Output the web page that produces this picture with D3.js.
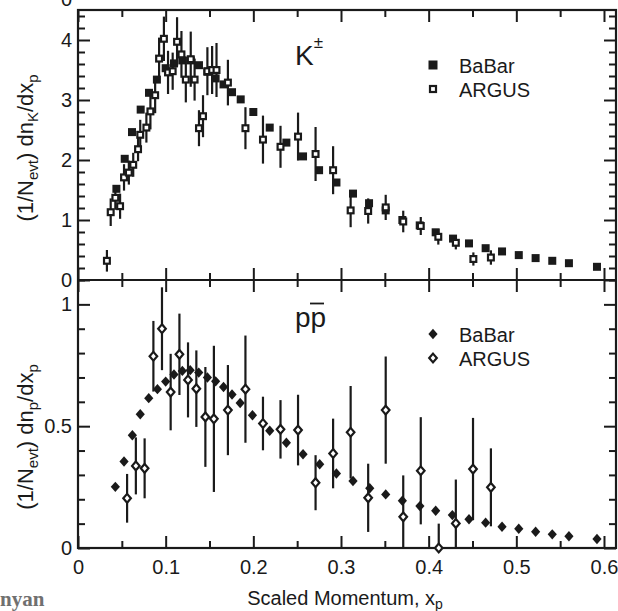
<!DOCTYPE html>
<html><head><meta charset="utf-8">
<script src="https://cdn.jsdelivr.net/npm/d3@7"></script>
<style>
html,body{margin:0;padding:0;background:#fff;}
svg{display:block;}
</style></head>
<body>
<svg id="chart" width="618" height="611"></svg>
<script>
// ---------- DATA ----------
const xTickValues = [0, 0.1, 0.2, 0.3, 0.4, 0.5, 0.6];
const xTickLabels = ["0", "0.1", "0.2", "0.3", "0.4", "0.5", "0.6"];
const topTickValues = [0, 1, 2, 3, 4];
const topTickLabels = ["0", "1", "2", "3", "4"];
const botTickValues = [0, 0.5, 1];
const botTickLabels = ["0", "0.5", "1"];

// K± BaBar (filled squares)
const kBabarX = [0.0438,0.0533,0.0616,0.0715,0.081,0.090,0.100,0.1095,0.119,0.1286,0.138,0.1476,0.157,0.166,0.1757,0.1856,0.200,0.2187,0.2377,0.2567,0.275,0.2948,0.3137,0.332,0.351,0.370,0.3898,0.408,0.4278,0.446,0.465,0.4837,0.5028,0.522,0.541,0.560,0.592];
const kBabarY = [1.52,2.02,2.465,2.84,3.12,3.34,3.53,3.61,3.66,3.66,3.58,3.47,3.36,3.26,3.13,3.01,2.80,2.54,2.29,2.06,1.83,1.625,1.44,1.28,1.16,1.00,0.91,0.795,0.69,0.61,0.53,0.476,0.415,0.365,0.32,0.28,0.22];

// K± ARGUS (open squares with errors)
const kArgusX = [0.033,0.0373,0.0426,0.048,0.0525,0.058,0.063,0.0685,0.071,0.078,0.0826,0.088,0.0925,0.098,0.1027,0.108,0.113,0.118,0.123,0.1286,0.133,0.138,0.1426,0.1476,0.153,0.158,0.171,0.191,0.211,0.231,0.251,0.271,0.291,0.311,0.331,0.351,0.371,0.391,0.411,0.431,0.451,0.471];
const kArgusY = [0.32,1.13,1.37,1.23,1.71,1.79,1.92,2.18,2.42,2.54,2.81,3.08,3.69,4.02,3.46,3.48,3.97,3.76,3.34,3.68,3.34,2.53,2.73,3.48,3.50,3.50,3.29,2.53,2.34,2.22,2.39,2.10,1.83,1.16,1.15,1.21,0.975,0.90,0.72,0.62,0.35,0.375];
const kArgusErr = [0.18,0.23,0.20,0.21,0.22,0.20,0.20,0.20,0.25,0.25,0.30,0.30,0.35,0.37,0.36,0.31,0.41,0.39,0.38,0.46,0.35,0.30,0.35,0.40,0.40,0.45,0.38,0.35,0.40,0.35,0.40,0.45,0.40,0.28,0.21,0.21,0.18,0.15,0.13,0.11,0.11,0.12];

// p pbar BaBar (filled diamonds)
const pBabarX = [0.0426,0.0525,0.062,0.071,0.0807,0.0906,0.100,0.1095,0.119,0.128,0.1377,0.1476,0.157,0.166,0.1757,0.185,0.199,0.2187,0.2377,0.2567,0.2757,0.2948,0.3137,0.3328,0.351,0.370,0.390,0.408,0.427,0.446,0.465,0.4837,0.5028,0.522,0.541,0.560,0.592];
const pBabarY = [0.251,0.355,0.463,0.549,0.615,0.652,0.683,0.712,0.727,0.730,0.72,0.70,0.684,0.661,0.63,0.595,0.545,0.481,0.432,0.385,0.344,0.306,0.275,0.245,0.22,0.194,0.172,0.153,0.135,0.118,0.104,0.087,0.079,0.067,0.056,0.048,0.037];

// p pbar ARGUS (open diamonds with errors)
const pArgusX = [0.056,0.066,0.076,0.086,0.0958,0.1057,0.1157,0.1255,0.135,0.1453,0.155,0.171,0.191,0.211,0.231,0.251,0.271,0.291,0.311,0.331,0.351,0.371,0.391,0.4115,0.431,0.4506,0.471];
const pArgusY = [0.204,0.337,0.327,0.787,0.90,0.64,0.795,0.69,0.654,0.538,0.53,0.566,0.652,0.511,0.487,0.484,0.268,0.388,0.475,0.206,0.566,0.128,0.317,0.0,0.101,0.324,0.249];
const pArgusErr = [0.10,0.117,0.123,0.145,0.17,0.157,0.167,0.154,0.157,0.205,0.30,0.185,0.22,0.11,0.12,0.145,0.113,0.143,0.19,0.14,0.22,0.17,0.22,0.10,0.18,0.21,0.16];

// ---------- CHART ----------
const ink = "#1a1a1a";
const SANS = '"Liberation Sans",Arial,Helvetica,sans-serif';
const svg = d3.select("#chart").style("font-family", SANS);
const L = 78, R = 616, T = 10, M = 280, B = 548;

const x = d3.scaleLinear().domain([0, 0.6137]).range([L, R]);
const yTop = d3.scaleLinear().domain([0, 4.5]).range([M, T]);
const yBot = d3.scaleLinear().domain([0, 1.1]).range([B, M]);

const xMinor = d3.range(0, 0.61, 0.05).filter(v => Math.abs(Math.round(v*10) - v*10) > 1e-6);
const topMinor = d3.range(0, 4.51, 0.2).filter(v => Math.abs(Math.round(v) - v) > 1e-6);
const botMinor = d3.range(0, 1.11, 0.1).filter(v => Math.abs(Math.round(v*2) - v*2) > 1e-6);

function styleAxis(g, fs) {
  g.select(".domain").remove();
  g.selectAll(".tick line").attr("stroke", ink).attr("stroke-width", 2);
  g.selectAll(".tick text").attr("font-size", fs).attr("fill", ink).attr("font-family", SANS);
}

const xAx = [
  {y: B, major: d3.axisBottom(x).tickValues(xTickValues).tickSize(-12).tickPadding(12).tickFormat((d,i)=>xTickLabels[i]), minor: d3.axisBottom(x).tickValues(xMinor).tickSize(-7).tickFormat("")},
  {y: M, major: d3.axisBottom(x).tickValues(xTickValues).tickSize(-12).tickFormat(""), minor: d3.axisBottom(x).tickValues(xMinor).tickSize(-7).tickFormat("")},
  {y: M, major: d3.axisTop(x).tickValues(xTickValues).tickSize(-12).tickFormat(""), minor: d3.axisTop(x).tickValues(xMinor).tickSize(-7).tickFormat("")},
  {y: T, major: d3.axisTop(x).tickValues(xTickValues).tickSize(-12).tickFormat(""), minor: d3.axisTop(x).tickValues(xMinor).tickSize(-7).tickFormat("")}
];
xAx.forEach(a => {
  svg.append("g").attr("transform", `translate(0,${a.y})`).call(a.major).call(g => styleAxis(g, 20));
  svg.append("g").attr("transform", `translate(0,${a.y})`).call(a.minor).call(g => styleAxis(g, 20));
});

function yAxes(scale, vals, labels, minor) {
  svg.append("g").attr("transform", `translate(${L},0)`)
    .call(d3.axisLeft(scale).tickValues(vals).tickSize(-12).tickPadding(6).tickFormat((d,i)=>labels[i]))
    .call(g => styleAxis(g, 20));
  svg.append("g").attr("transform", `translate(${L},0)`)
    .call(d3.axisLeft(scale).tickValues(minor).tickSize(-7).tickFormat(""))
    .call(g => styleAxis(g, 20));
  svg.append("g").attr("transform", `translate(${R},0)`)
    .call(d3.axisRight(scale).tickValues(vals).tickSize(-12).tickFormat(""))
    .call(g => styleAxis(g, 20));
  svg.append("g").attr("transform", `translate(${R},0)`)
    .call(d3.axisRight(scale).tickValues(minor).tickSize(-7).tickFormat(""))
    .call(g => styleAxis(g, 20));
}
yAxes(yTop, topTickValues, topTickLabels, topMinor);
yAxes(yBot, botTickValues, botTickLabels, botMinor);

// cut-off label of the panel above (reference is cropped here)
svg.append("text").attr("x", 72).attr("y", 6).attr("text-anchor", "end").attr("font-size", 20).attr("fill", ink).text("0");

// frame
svg.append("rect").attr("x", L).attr("y", T).attr("width", R-L).attr("height", B-T)
  .attr("fill", "none").attr("stroke", ink).attr("stroke-width", 2.2);
svg.append("line").attr("x1", L).attr("x2", R).attr("y1", M).attr("y2", M)
  .attr("stroke", ink).attr("stroke-width", 2.2);

const diamondFilled = (cx, cy) => `M${cx},${cy-5.2}L${cx+4.6},${cy}L${cx},${cy+5.2}L${cx-4.6},${cy}Z`;
const diamondOpen = (cx, cy) => `M${cx},${cy-4.4}L${cx+3.8},${cy}L${cx},${cy+4.4}L${cx-3.8},${cy}Z`;

// Top panel
const gTop = svg.append("g");
gTop.selectAll("rect.kb").data(kBabarX).join("rect").attr("class","kb")
  .attr("x", (d)=>x(d)-4).attr("y", (d,i)=>yTop(kBabarY[i])-4).attr("width", 8).attr("height", 8).attr("fill", ink);
gTop.selectAll("line.ke").data(kArgusX).join("line").attr("class","ke")
  .attr("x1", d=>x(d)).attr("x2", d=>x(d))
  .attr("y1", (d,i)=>yTop(Math.min(4.5, kArgusY[i]+kArgusErr[i])))
  .attr("y2", (d,i)=>yTop(Math.max(0, kArgusY[i]-kArgusErr[i])))
  .attr("stroke", ink).attr("stroke-width", 2.2);
gTop.selectAll("rect.ka").data(kArgusX).join("rect").attr("class","ka")
  .attr("x", d=>x(d)-2.9).attr("y", (d,i)=>yTop(kArgusY[i])-2.9).attr("width", 5.8).attr("height", 5.8)
  .attr("fill", "#fff").attr("stroke", ink).attr("stroke-width", 2.2);

// Bottom panel
const gBot = svg.append("g");
gBot.selectAll("path.pb").data(pBabarX).join("path").attr("class","pb")
  .attr("d", (d,i)=>diamondFilled(x(d), yBot(pBabarY[i]))).attr("fill", ink);
gBot.selectAll("line.pe").data(pArgusX).join("line").attr("class","pe")
  .attr("x1", d=>x(d)).attr("x2", d=>x(d))
  .attr("y1", (d,i)=>yBot(Math.min(1.1, pArgusY[i]+pArgusErr[i])))
  .attr("y2", (d,i)=>yBot(Math.max(0, pArgusY[i]-pArgusErr[i])))
  .attr("stroke", ink).attr("stroke-width", 2.2);
gBot.selectAll("path.pa").data(pArgusX).join("path").attr("class","pa")
  .attr("d", (d,i)=>diamondOpen(x(d), yBot(pArgusY[i])))
  .attr("fill", "#fff").attr("stroke", ink).attr("stroke-width", 2.2);

// Legends
svg.append("rect").attr("x", 433-4.5).attr("y", 65-4.5).attr("width", 9).attr("height", 9).attr("fill", ink);
svg.append("rect").attr("x", 433-3).attr("y", 89-3).attr("width", 6).attr("height", 6).attr("fill", "#fff").attr("stroke", ink).attr("stroke-width", 2.2);
svg.append("text").attr("x", 459).attr("y", 73).attr("font-size", 20).attr("fill", ink).text("BaBar");
svg.append("text").attr("x", 459).attr("y", 97).attr("font-size", 20).attr("fill", ink).text("ARGUS");

svg.append("path").attr("d", diamondFilled(433, 334)).attr("fill", ink);
svg.append("path").attr("d", diamondOpen(433, 358)).attr("fill", "#fff").attr("stroke", ink).attr("stroke-width", 2.2);
svg.append("text").attr("x", 459).attr("y", 342).attr("font-size", 20).attr("fill", ink).text("BaBar");
svg.append("text").attr("x", 459).attr("y", 366).attr("font-size", 20).attr("fill", ink).text("ARGUS");

// Particle labels
const kl = svg.append("text").attr("x", 295).attr("y", 65).attr("font-size", 28).attr("fill", ink);
kl.append("tspan").text("K");
kl.append("tspan").attr("font-size", 17).attr("dy", -17).text("±");
svg.append("text").attr("x", 295).attr("y", 327).attr("font-size", 28).attr("fill", ink).text("pp");
svg.append("line").attr("x1", 310).attr("x2", 324).attr("y1", 303.5).attr("y2", 303.5).attr("stroke", ink).attr("stroke-width", 1.8);

// Axis titles
const xt = svg.append("text").attr("x", 345).attr("y", 605).attr("text-anchor", "middle").attr("font-size", 20).attr("fill", ink);
xt.append("tspan").text("Scaled Momentum, x");
xt.append("tspan").attr("font-size", 14).attr("dy", 4).text("p");

function yTitle(cy, sub) {
  const t = svg.append("text").attr("transform", `translate(33,${cy}) rotate(-90)`).attr("text-anchor", "middle").attr("font-size", 22).attr("fill", ink);
  t.append("tspan").text("(1/N");
  t.append("tspan").attr("font-size", 15).attr("dy", 5).text("evt");
  t.append("tspan").attr("dy", -5).text(") dn");
  t.append("tspan").attr("font-size", 15).attr("dy", 5).text(sub);
  t.append("tspan").attr("dy", -5).text("/dx");
  t.append("tspan").attr("font-size", 15).attr("dy", 5).text("p");
}
yTitle(148, "K");
yTitle(437, "p");

// author text at lower left (cropped in the reference)
svg.append("text").attr("x", 0).attr("y", 606).attr("font-size", 21).attr("font-weight", "bold")
  .style("font-family", '"Liberation Serif","Times New Roman",serif').attr("fill", "#707070").text("nyan");
</script>
</body></html>
